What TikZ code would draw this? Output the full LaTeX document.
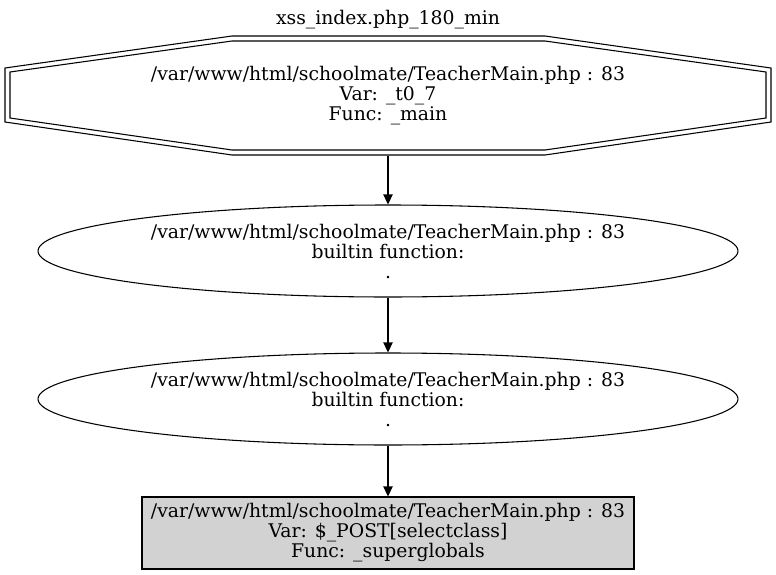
\documentclass[tikz,border=0pt]{standalone}
\usepackage{fontspec}
\setmainfont{DejaVu Serif}
\usetikzlibrary{shapes.geometric,arrows.meta}
\tikzset{
  lbl/.style={align=center, inner sep=0pt, font=\fontsize{14.1}{15}\selectfont},
  ell/.style={lbl, draw, ellipse, minimum width=525pt, minimum height=69pt},
  src/.style={lbl, draw, fill=lightgray!70, minimum width=369pt, minimum height=54pt},
  edge/.style={-{Triangle[length=7.5pt,width=7pt]}, line width=0.8pt}
}
\begin{document}
\begin{tikzpicture}[x=0.75pt,y=-0.75pt, line width=0.8pt]
\useasboundingbox (0,0) rectangle (776,575);

\node[lbl] (title) at (388,20) {xss\_index.php\_180\_min};

\draw (232,36) -- (545,36) -- (771,68) -- (771,122) -- (545,155) -- (232,155) -- (5,122) -- (5,68) -- cycle;
\draw (232,41) -- (545,41) -- (766,72) -- (766,118) -- (545,150) -- (232,150) -- (10,118) -- (10,72) -- cycle;
\node[lbl, minimum height=89.25pt] (v1) at (388,95.5) {/var/www/html/schoolmate/TeacherMain.php : 83\\Var: \_t0\_7\\Func: \_main};

\node[ell] (v2) at (388,251) {/var/www/html/schoolmate/TeacherMain.php : 83\\builtin function:\\.};
\node[ell] (v3) at (388,399) {/var/www/html/schoolmate/TeacherMain.php : 83\\builtin function:\\.};
\node[src] (v4) at (388,533) {/var/www/html/schoolmate/TeacherMain.php : 83\\Var: \$\_POST[selectclass]\\Func: \_superglobals};

\draw[edge] (v1) -- (v2);
\draw[edge] (v2) -- (v3);
\draw[edge] (v3) -- (v4);
\end{tikzpicture}
\end{document}
